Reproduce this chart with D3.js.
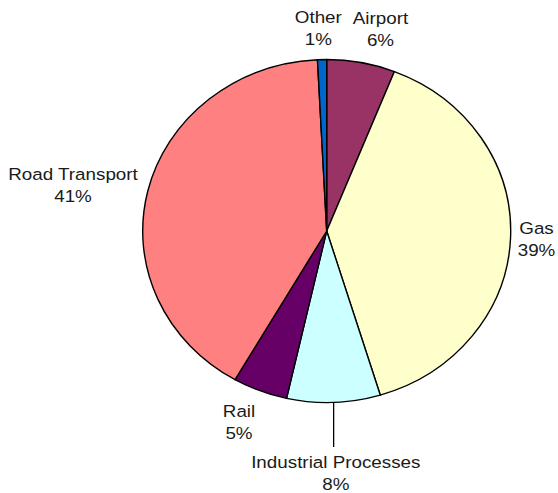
<!DOCTYPE html>
<html>
<head>
<meta charset="utf-8">
<script src="https://cdn.jsdelivr.net/npm/d3@7"></script>
<style>
  html, body { margin: 0; padding: 0; background: #fff; }
  svg { display: block; }
</style>
</head>
<body>
<svg id="chart" width="558" height="493"></svg>
<script>
const categories = ["Airport", "Gas", "Industrial Processes", "Rail", "Road Transport", "Other"];
const values = [6.0, 39.3, 8.2, 4.8, 40.9, 0.8];
const percentLabels = ["6%", "39%", "8%", "5%", "41%", "1%"];
const colors = ["#993366", "#FFFFCC", "#CCFFFF", "#660066", "#FF8080", "#0066CC"];

const svg = d3.select("#chart");
const cx = 326.7, cy = 231, rx = 184, ry = 171.5;

const pie = d3.pie().sort(null).value(d => d)(values);
const arc = d3.arc().innerRadius(0).outerRadius(rx);

const g = svg.append("g")
  .attr("transform", `translate(${cx},${cy}) scale(1,${ry / rx})`);

g.selectAll("path")
  .data(pie)
  .join("path")
  .attr("d", arc)
  .attr("fill", (d, i) => colors[i])
  .attr("stroke", "#000")
  .attr("stroke-width", 1.4)
  .attr("stroke-linejoin", "round")
  .attr("vector-effect", "non-scaling-stroke");

// label positions (text centre x, first-line baseline y)
const labelPos = [
  [380.5, 24],
  [536.5, 234],
  [335.8, 468],
  [239, 417],
  [73, 180],
  [318.3, 23]
];
const lineGap = 22;

const labels = svg.append("g")
  .attr("font-family", "'Liberation Sans', Arial, sans-serif")
  .attr("font-size", 16.5)
  .attr("fill", "#1a1a1a")
  .attr("text-anchor", "middle");

categories.forEach((c, i) => {
  const t = labels.append("text")
    .attr("transform", `translate(${labelPos[i][0]},${labelPos[i][1]}) scale(1.14,1)`);
  t.append("tspan").attr("x", 0).attr("y", 0).text(c);
  t.append("tspan").attr("x", 0).attr("y", lineGap).text(percentLabels[i]);
});

// leader line for Industrial Processes
const indArc = pie[2];
const midA = (indArc.startAngle + indArc.endAngle) / 2;
const px = cx + rx * Math.sin(midA);
const py = cy - ry * Math.cos(midA);
svg.append("line")
  .attr("x1", px).attr("y1", py)
  .attr("x2", px).attr("y2", 447)
  .attr("stroke", "#000")
  .attr("stroke-width", 1.3);
</script>
</body>
</html>
